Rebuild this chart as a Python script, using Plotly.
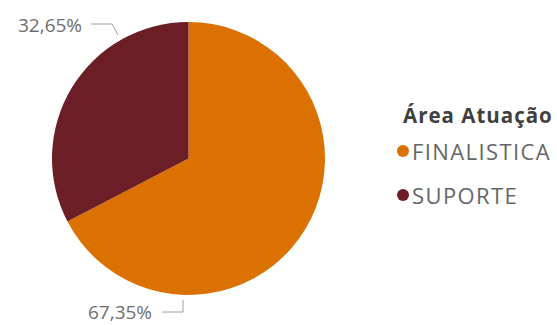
import plotly.graph_objects as go

# Data
categories = ["FINALISTICA", "SUPORTE"]
shares = [67.35, 32.65]
colors = ["#DB7100", "#6B1E25"]
legend_title = "Área Atuação"

W, H = 557, 325

def px(x):
    return x / W

def py(y):
    return 1 - y / H

def fmt(v):
    return f"{v:.2f}".replace(".", ",") + "%"

fig = go.Figure()
fig.add_trace(go.Pie(
    labels=categories,
    values=shares,
    marker=dict(colors=colors, line=dict(width=0)),
    sort=False,
    direction="clockwise",
    rotation=0,
    textinfo="none",
    hoverinfo="label+percent",
    showlegend=False,
    domain=dict(x=[px(52), px(325)], y=[py(295), py(22)]),
))

FONT = "Open Sans, Segoe UI, sans-serif"
label_font = dict(family=FONT, size=19, color="#6E6E6E")
line_style = dict(color="#A0A0A0", width=1)

annotations = []
shapes = []

# Outside data labels with leader lines
annotations.append(dict(x=px(16), y=py(25), xref="paper", yref="paper",
                        text=fmt(shares[1]), showarrow=False, xanchor="left",
                        yanchor="middle", font=label_font))
shapes.append(dict(type="path", xref="paper", yref="paper",
                   path=f"M {px(91)} {py(24)} L {px(112)} {py(24)} L {px(118)} {py(35)}",
                   line=line_style))
annotations.append(dict(x=px(86), y=py(312), xref="paper", yref="paper",
                        text=fmt(shares[0]), showarrow=False, xanchor="left",
                        yanchor="middle", font=label_font))
shapes.append(dict(type="path", xref="paper", yref="paper",
                   path=f"M {px(162)} {py(312)} L {px(183)} {py(312)} L {px(183)} {py(300)}",
                   line=line_style))

# Legend
annotations.append(dict(x=px(401), y=py(115), xref="paper", yref="paper",
                        text=f"<span style='letter-spacing:1px'><b>{legend_title}</b></span>",
                        showarrow=False, xanchor="left", yanchor="middle",
                        font=dict(family=FONT, size=20.5, color="#404040")))
item_y = [151, 195]
for name, col, yy in zip(categories, colors, item_y):
    shapes.append(dict(type="circle", xref="paper", yref="paper",
                       x0=px(397), x1=px(409), y0=py(yy - 6), y1=py(yy + 6),
                       fillcolor=col, line=dict(width=0)))
    annotations.append(dict(x=px(410), y=py(yy), xref="paper", yref="paper",
                            text=f"<span style='letter-spacing:1.4px'>{name}</span>",
                            showarrow=False, xanchor="left", yanchor="middle",
                            font=dict(family=FONT, size=22, color="#666666")))

fig.update_layout(
    width=W, height=H,
    margin=dict(l=0, r=0, t=0, b=0),
    paper_bgcolor="white",
    plot_bgcolor="white",
    annotations=annotations,
    shapes=shapes,
)

fig.write_html("out.html", config={"displayModeBar": False},
               post_script="document.body.style.margin='0';")
